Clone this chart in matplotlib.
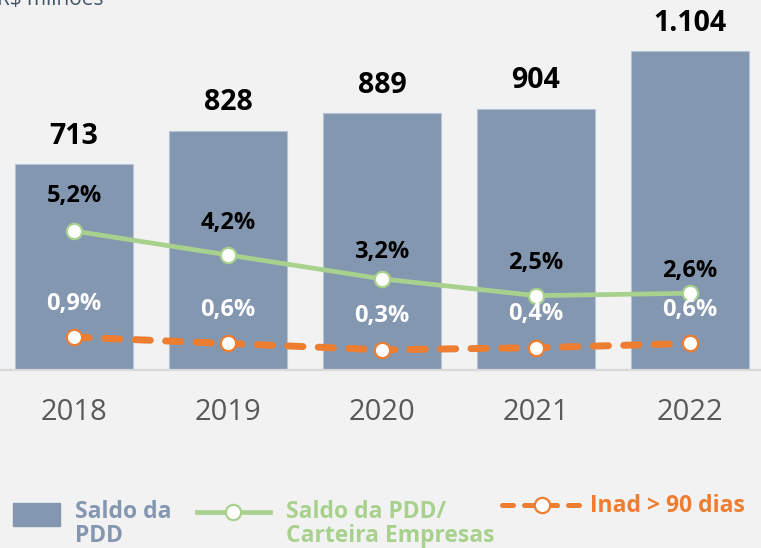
import matplotlib
matplotlib.use("Agg")
import matplotlib.pyplot as plt
from matplotlib.patches import Rectangle
from matplotlib.lines import Line2D

# Saldo da PDD (R$ milhoes) and ratios (%)
years = ["2018", "2019", "2020", "2021", "2022"]
saldo_pdd = [713, 828, 889, 904, 1104]
pdd_carteira = [5.2, 4.2, 3.2, 2.5, 2.6]
inad_90 = [0.9, 0.6, 0.3, 0.4, 0.6]

BAR = "#8497b0"
GREEN = "#a9d18e"
ORANGE = "#ed7d31"
BG = "#f2f2f2"
FONT = "Open Sans"

W, H = 761, 548
fig = plt.figure(figsize=(W / 100, H / 100), dpi=100, facecolor=BG)

base_px = 370  # pixel row of the baseline
ax = fig.add_axes([0, (H - base_px) / H, 1, base_px / H])
ax.set_facecolor(BG)
x = list(range(len(years)))

ax.bar(x, saldo_pdd, width=0.766, color=BAR, edgecolor="#b8c3d3", lw=0.8, zorder=2)
ax.set_xlim(-74 / 154, 4 + 71 / 154)
ax.set_ylim(0, base_px / 0.289)
ax.axhline(0, color="#d9d9d9", lw=1.6, clip_on=False, zorder=3)
for s in ax.spines.values():
    s.set_visible(False)
ax.set_yticks([])
ax.set_xticks(x, years)
ax.tick_params(axis="x", length=0, pad=20, labelsize=21, labelcolor="#595959")
for t in ax.get_xticklabels():
    t.set_fontfamily(FONT)

for i, v in zip(x, saldo_pdd):
    ax.annotate(f"{v:,}".replace(",", "."), (i, v), xytext=(0, 20),
                textcoords="offset points", ha="center", va="center",
                fontsize=20.5, fontweight="bold", family=FONT, color="black")

# green ratio on its own scale
ax2 = ax.twinx()
ax2.set_ylim(-14.5 / 23.94, 355.5 / 23.94)
ax2.plot(x, pdd_carteira, color=GREEN, lw=3.4, marker="o", ms=11,
         mfc="white", mec=GREEN, mew=1.6, solid_capstyle="round", zorder=4)
green_off = [25, 23, 19.5, 23.5, 16]
for i, v, off in zip(x, pdd_carteira, green_off):
    ax2.annotate(f"{v:.1f}".replace(".", ",") + "%", (i, v), xytext=(0, off),
                 textcoords="offset points", ha="center", va="center",
                 fontsize=17, fontweight="bold", family=FONT, color="black")

# orange delinquency line on a third scale
ax3 = ax.twinx()
ax3.set_ylim(-13.83 / 21.16, 356.17 / 21.16)
ax3.plot(x, inad_90, color=ORANGE, lw=5, ls=(0, (2.2, 2.2)),
         dash_capstyle="round", marker="o", ms=11, mfc="white", mec=ORANGE,
         mew=1.6, zorder=4)
for i, v in zip(x, inad_90):
    ax3.annotate(f"{v:.1f}".replace(".", ",") + "%", (i, v), xytext=(0, 24),
                 textcoords="offset points", ha="center", va="center",
                 fontsize=17, fontweight="bold", family=FONT, color="white")

for a in (ax2, ax3):
    a.set_yticks([])
    for s in a.spines.values():
        s.set_visible(False)

# overlay in pixel units for legend and unit note
lg = fig.add_axes([0, 0, 1, 1])
lg.set_xlim(0, W)
lg.set_ylim(H, 0)
lg.axis("off")
lg.patch.set_alpha(0)

lg.text(-3, 5, "R$ milhões", fontsize=15, family=FONT, color="#44546a",
        va="baseline", ha="left")

LEG = dict(fontsize=16.5, fontweight="bold", family=FONT, va="baseline")
lg.add_patch(Rectangle((13, 503), 47, 23, color=BAR))
lg.text(75, 518, "Saldo da", color=BAR, **LEG)
lg.text(75, 542, "PDD", color=BAR, **LEG)

lg.add_line(Line2D([197, 270], [512, 512], color=GREEN, lw=3.4))
lg.add_line(Line2D([233], [512], marker="o", ms=11, mfc="white", mec=GREEN, mew=1.6))
lg.text(286, 518, "Saldo da PDD/", color=GREEN, **LEG)
lg.text(286, 542, "Carteira Empresas", color=GREEN, **LEG)

lg.add_line(Line2D([502, 582], [505, 505], color=ORANGE, lw=3.6,
                   ls=(0, (2.2, 2.2)), dash_capstyle="round"))
lg.add_line(Line2D([542], [505], marker="o", ms=11, mfc="white", mec=ORANGE, mew=1.6))
lg.text(590, 512, "Inad > 90 dias", color=ORANGE, **LEG)

fig.savefig("out.png", dpi=100, facecolor=BG)
